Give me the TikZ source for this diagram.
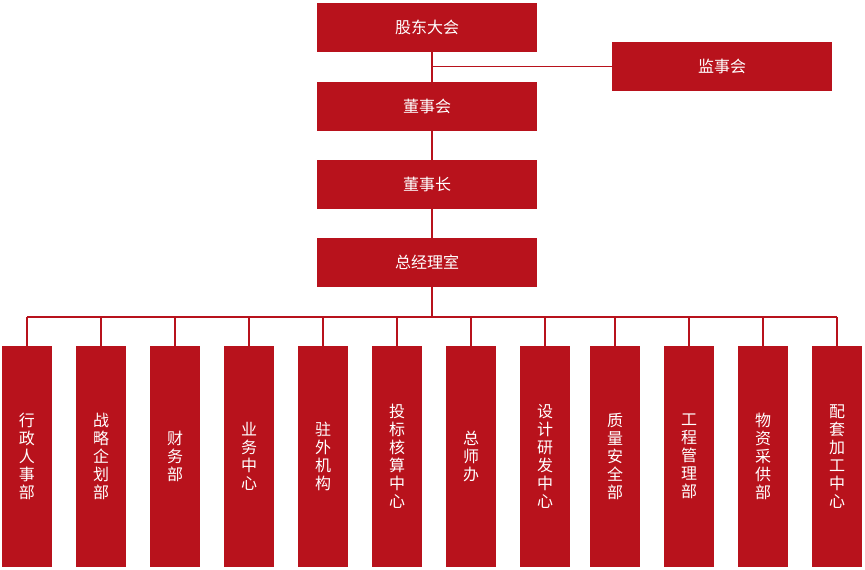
\documentclass[tikz,border=0pt]{standalone}
\usepackage{fontspec}
\newfontfamily\cjk{Noto Sans CJK SC}
\definecolor{red1}{HTML}{B8121C}
\begin{document}
\begin{tikzpicture}[x=1pt,y=-1pt,
  top/.style={fill=red1,text=white,minimum width=220pt,minimum height=49pt,inner sep=0,font=\cjk\fontsize{16}{18}\selectfont},
  dept/.style={fill=red1,text=white,minimum width=50pt,minimum height=221pt,inner sep=0,font=\cjk\fontsize{16}{18}\selectfont,align=center},
  ln/.style={draw=red1,line width=1.6pt}]
\useasboundingbox (0,0) rectangle (865,570);
\node[top] (a) at (427,27.5) {股东大会};
\node[top] (j) at (722,66.5) {监事会};
\node[top] (b) at (427,106) {董事会};
\node[top] (c) at (427,184) {董事长};
\node[top] (d) at (427,262) {总经理室};
\coordinate (jm) at (432,66.5);
\draw[ln] (432,52) -- (432,82);
\draw[ln] (jm) -- (j.west);
\draw[ln] (432,130) -- (432,160);
\draw[ln] (432,208) -- (432,238);
\coordinate (bus) at (432,317);
\draw[ln] (432,286) -- (bus);
\draw[ln] (27,317) -- (837,317);
\foreach \n/\x/\t in {1/27/行\\政\\人\\事\\部,2/101/战\\略\\企\\划\\部,3/175/财\\务\\部,4/249/业\\务\\中\\心,5/323/驻\\外\\机\\构,6/397/投\\标\\核\\算\\中\\心,7/471/总\\师\\办,8/545/设\\计\\研\\发\\中\\心,9/615/质\\量\\安\\全\\部,10/689/工\\程\\管\\理\\部,11/763/物\\资\\采\\供\\部,12/837/配\\套\\加\\工\\中\\心}{
  \node[dept] (e\n) at (\x,456.5) {\t};
  \draw[ln] (\x,317) -- (e\n.north);
}
\end{tikzpicture}
\end{document}
